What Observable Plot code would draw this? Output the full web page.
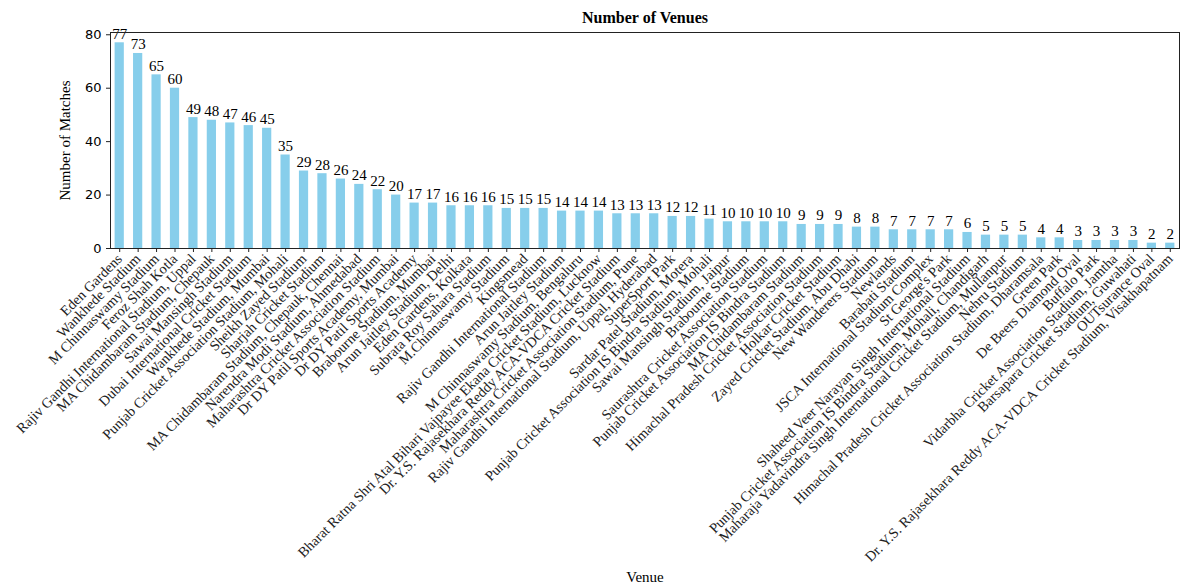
<!DOCTYPE html>
<html>
<head>
<meta charset="utf-8">
<script src="https://cdn.jsdelivr.net/npm/d3@7"></script>
<script src="https://cdn.jsdelivr.net/npm/@observablehq/plot@0.6"></script>
<style>
  html, body { margin: 0; padding: 0; background: white; }
</style>
</head>
<body>
<div id="chart"></div>
<script>
const venues = [
  "Eden Gardens",
  "Wankhede Stadium",
  "M Chinnaswamy Stadium",
  "Feroz Shah Kotla",
  "Rajiv Gandhi International Stadium, Uppal",
  "MA Chidambaram Stadium, Chepauk",
  "Sawai Mansingh Stadium",
  "Dubai International Cricket Stadium",
  "Wankhede Stadium, Mumbai",
  "Punjab Cricket Association Stadium, Mohali",
  "Sheikh Zayed Stadium",
  "Sharjah Cricket Stadium",
  "MA Chidambaram Stadium, Chepauk, Chennai",
  "Narendra Modi Stadium, Ahmedabad",
  "Maharashtra Cricket Association Stadium",
  "Dr DY Patil Sports Academy, Mumbai",
  "Dr DY Patil Sports Academy",
  "Brabourne Stadium, Mumbai",
  "Arun Jaitley Stadium, Delhi",
  "Eden Gardens, Kolkata",
  "Subrata Roy Sahara Stadium",
  "M.Chinnaswamy Stadium",
  "Kingsmead",
  "Rajiv Gandhi International Stadium",
  "Arun Jaitley Stadium",
  "M Chinnaswamy Stadium, Bengaluru",
  "Bharat Ratna Shri Atal Bihari Vajpayee Ekana Cricket Stadium, Lucknow",
  "Dr. Y.S. Rajasekhara Reddy ACA-VDCA Cricket Stadium",
  "Maharashtra Cricket Association Stadium, Pune",
  "Rajiv Gandhi International Stadium, Uppal, Hyderabad",
  "SuperSport Park",
  "Sardar Patel Stadium, Motera",
  "Punjab Cricket Association IS Bindra Stadium, Mohali",
  "Sawai Mansingh Stadium, Jaipur",
  "Brabourne Stadium",
  "Saurashtra Cricket Association Stadium",
  "Punjab Cricket Association IS Bindra Stadium",
  "MA Chidambaram Stadium",
  "Himachal Pradesh Cricket Association Stadium",
  "Holkar Cricket Stadium",
  "Zayed Cricket Stadium, Abu Dhabi",
  "New Wanderers Stadium",
  "Newlands",
  "Barabati Stadium",
  "JSCA International Stadium Complex",
  "St George's Park",
  "Shaheed Veer Narayan Singh International Stadium",
  "Punjab Cricket Association IS Bindra Stadium, Mohali, Chandigarh",
  "Maharaja Yadavindra Singh International Cricket Stadium, Mullanpur",
  "Nehru Stadium",
  "Himachal Pradesh Cricket Association Stadium, Dharamsala",
  "Green Park",
  "De Beers Diamond Oval",
  "Buffalo Park",
  "Vidarbha Cricket Association Stadium, Jamtha",
  "Barsapara Cricket Stadium, Guwahati",
  "OUTsurance Oval",
  "Dr. Y.S. Rajasekhara Reddy ACA-VDCA Cricket Stadium, Visakhapatnam"
];

const matches = [
  77, 73, 65, 60, 49, 48, 47, 46, 45, 35,
  29, 28, 26, 24, 22, 20, 17, 17, 16, 16,
  16, 15, 15, 15, 14, 14, 14, 13, 13, 13,
  12, 12, 11, 10, 10, 10, 10, 9, 9, 9,
  8, 8, 7, 7, 7, 7, 6, 5, 5, 5,
  4, 4, 3, 3, 3, 3, 2, 2
];

const yTicks = [0, 20, 40, 60, 80];

const titleText = "Number of Venues";
const xLabel = "Venue";
const yLabel = "Number of Matches";

const data = venues.map((v, i) => ({venue: v, matches: matches[i]}));

const serif = "'Liberation Serif', 'Times New Roman', serif";
const sans = "'DejaVu Sans', sans-serif";

const chart = Plot.plot({
  width: 1181,
  height: 588,
  marginLeft: 110,
  marginRight: 2,
  marginTop: 32,
  marginBottom: 340,
  style: {background: "white", color: "black", fontFamily: serif},
  x: {domain: venues, paddingInner: 0.5, paddingOuter: 0.25, round: false, label: null},
  y: {domain: [0, 80.85], label: null},
  marks: [
    Plot.barY(data, {x: "venue", y: "matches", fill: "#87CEEB"}),
    Plot.text(data, {x: "venue", y: "matches", text: d => String(d.matches), dy: -4, lineAnchor: "bottom", fontSize: 15, fill: "black", fontFamily: serif}),
    Plot.frame({stroke: "#222", strokeWidth: 1}),
    Plot.axisY({ticks: yTicks, tickSize: 4, tickPadding: 5, fontFamily: sans, fontSize: 13, label: null, stroke: "#222"}),
    Plot.axisX({tickRotate: -45, tickSize: 4, tickPadding: 4, fontSize: 14.3, fontFamily: serif, fill: "#222", label: null, stroke: "#222"}),
    Plot.text([titleText], {text: d => d, frameAnchor: "top", dy: -15, lineAnchor: "middle", textAnchor: "middle", fontWeight: "bold", fontSize: 16, fontFamily: serif}),
    Plot.text([yLabel], {text: d => d, frameAnchor: "left", dx: -45, rotate: -90, lineAnchor: "middle", textAnchor: "middle", fontSize: 15, fontFamily: serif}),
    Plot.text([xLabel], {text: d => d, frameAnchor: "bottom", dy: 329, lineAnchor: "middle", textAnchor: "middle", fontSize: 15, fontFamily: serif})
  ]
});

document.getElementById("chart").appendChild(chart);
</script>
</body>
</html>
